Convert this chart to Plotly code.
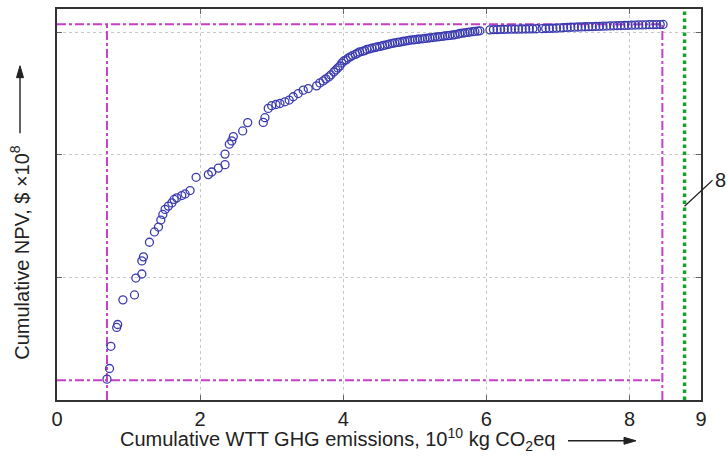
import plotly.graph_objects as go

# Cumulative WTT GHG emissions (10^10 kg CO2eq) and cumulative NPV ($ x10^8)
emissions = [
    0.698, 0.734, 0.753, 0.834, 0.848, 0.921, 1.083, 1.102, 1.186, 1.186,
    1.208, 1.292, 1.362, 1.418, 1.451, 1.479, 1.511, 1.557, 1.605, 1.637,
    1.674, 1.744, 1.790, 1.860, 1.944, 2.115, 2.163, 2.255, 2.348, 2.348,
    2.408, 2.442, 2.464, 2.595, 2.665, 2.883, 2.906, 2.952, 3.000, 3.060,
    3.116, 3.185, 3.245, 3.301, 3.371, 3.441, 3.511, 3.628, 3.674, 3.720,
    3.757, 3.799, 3.827, 3.869, 3.897, 3.925, 3.953, 3.981, 4.009,
    4.04, 4.07, 4.10, 4.13, 4.17, 4.20, 4.23, 4.27, 4.30, 4.33,
    4.37, 4.40, 4.44, 4.47, 4.51, 4.55, 4.58, 4.62, 4.65, 4.69,
    4.72, 4.76, 4.79, 4.83, 4.86, 4.90, 4.93, 4.97, 5.00, 5.04,
    5.07, 5.11, 5.14, 5.18, 5.21, 5.25, 5.28, 5.32, 5.35, 5.39,
    5.42, 5.46, 5.49, 5.53, 5.56, 5.60, 5.63, 5.67, 5.70, 5.74,
    5.77, 5.81, 5.84, 5.88, 5.91,
    6.05, 6.10, 6.15, 6.20, 6.25, 6.30, 6.35, 6.40, 6.45, 6.50,
    6.55, 6.60, 6.65, 6.70, 6.78, 6.83, 6.88, 6.93, 6.98, 7.03,
    7.08, 7.13, 7.18, 7.23, 7.28, 7.33, 7.38, 7.43, 7.48, 7.53,
    7.58, 7.63, 7.68, 7.73, 7.78, 7.83, 7.88, 7.93, 7.98, 8.03,
    8.08, 8.13, 8.18, 8.23, 8.28, 8.33, 8.38, 8.43, 8.47,
]
npv = [
    0.170, 0.257, 0.438, 0.592, 0.616, 0.817, 0.857, 0.995, 1.028, 1.135,
    1.168, 1.287, 1.371, 1.411, 1.468, 1.514, 1.555, 1.582, 1.608, 1.636,
    1.649, 1.668, 1.681, 1.709, 1.817, 1.839, 1.860, 1.892, 1.920, 2.006,
    2.087, 2.114, 2.149, 2.195, 2.263, 2.265, 2.303, 2.379, 2.401, 2.411,
    2.419, 2.433, 2.447, 2.474, 2.500, 2.528, 2.541, 2.563, 2.587, 2.603,
    2.620, 2.636, 2.652, 2.676, 2.693, 2.709, 2.725, 2.749, 2.766,
    2.775, 2.790, 2.800, 2.810, 2.820, 2.830, 2.840, 2.845, 2.850, 2.860,
    2.865, 2.870, 2.875, 2.880, 2.885, 2.890, 2.895, 2.900, 2.905, 2.910,
    2.913, 2.917, 2.920, 2.925, 2.928, 2.932, 2.936, 2.938, 2.940, 2.943,
    2.945, 2.947, 2.950, 2.952, 2.955, 2.957, 2.960, 2.962, 2.965, 2.967,
    2.970, 2.972, 2.975, 2.978, 2.980, 2.985, 2.990, 2.993, 2.996, 2.999,
    3.002, 3.005, 3.007, 3.010, 3.012,
    3.020, 3.022, 3.022, 3.024, 3.024, 3.025, 3.025, 3.026, 3.026, 3.027,
    3.027, 3.028, 3.028, 3.029, 3.030, 3.031, 3.032, 3.033, 3.034, 3.036,
    3.038, 3.040, 3.041, 3.042, 3.043, 3.044, 3.045, 3.046, 3.047, 3.048,
    3.049, 3.050, 3.051, 3.052, 3.053, 3.054, 3.055, 3.056, 3.057, 3.058,
    3.059, 3.060, 3.060, 3.061, 3.062, 3.062, 3.063, 3.063, 3.064,
]

# reference lines
min_emission = 0.698
max_emission = 8.46
limit_emission = 8.77
min_npv = 0.162
max_npv = 3.065

x_ticks = [0, 2, 4, 6, 8, 9]
x_ticklabels = ["0", "2", "4", "6", "8", "9"]
y_ticks = [0, 1, 2, 3]

PINK = "#c63fc6"
GREEN = "#17a02c"
MARK = "#3b3bb0"
FONT = "Liberation Sans, Arial, sans-serif"

W, H = 728, 460
ML, MR, MT, MB = 57, 27, 7, 60
PW, PH = W - ML - MR, H - MT - MB


def px(x):
    return (x - ML) / PW


def py(y):
    return (H - MB - y) / PH


fig = go.Figure()

# dash-dot bounding lines
fig.add_trace(go.Scatter(x=[0, max_emission], y=[max_npv, max_npv], mode="lines",
                         line=dict(color=PINK, width=2, dash="dashdot"), hoverinfo="skip"))
fig.add_trace(go.Scatter(x=[0, max_emission], y=[min_npv, min_npv], mode="lines",
                         line=dict(color=PINK, width=2, dash="dashdot"), hoverinfo="skip"))
fig.add_trace(go.Scatter(x=[min_emission, min_emission], y=[0, max_npv], mode="lines",
                         line=dict(color=PINK, width=2, dash="dashdot"), hoverinfo="skip"))
fig.add_trace(go.Scatter(x=[max_emission, max_emission], y=[0, max_npv], mode="lines",
                         line=dict(color=PINK, width=2, dash="dashdot"), hoverinfo="skip"))
fig.add_trace(go.Scatter(x=[limit_emission, limit_emission], y=[0, 3.19], mode="lines",
                         line=dict(color=GREEN, width=3.5, dash="dot"), hoverinfo="skip"))

fig.add_trace(go.Scatter(x=emissions, y=npv, mode="markers",
                         marker=dict(symbol="circle-open", size=8, color=MARK,
                                     line=dict(width=1.3, color=MARK))))

fig.update_layout(
    width=W, height=H,
    margin=dict(l=ML, r=MR, t=MT, b=MB),
    paper_bgcolor="white", plot_bgcolor="white",
    showlegend=False,
    font=dict(family=FONT, size=20, color="#222"),
)
fig.update_xaxes(range=[0, 9], tickvals=x_ticks, ticktext=x_ticklabels,
                 showgrid=True, gridcolor="#c8c8c8", griddash="dot", gridwidth=1,
                 showline=True, linecolor="#333", linewidth=2, mirror="ticks",
                 ticks="inside", ticklen=5, tickcolor="#666",
                 tickfont=dict(size=20), zeroline=False)
fig.update_yaxes(range=[0, 3.19], tickvals=y_ticks, showticklabels=False,
                 showgrid=True, gridcolor="#c8c8c8", griddash="dot", gridwidth=1,
                 showline=True, linecolor="#333", linewidth=2, mirror="ticks",
                 ticks="inside", ticklen=5, tickcolor="#666", zeroline=False)

# axis titles
fig.add_annotation(text="Cumulative WTT GHG emissions, 10<sup>10</sup> kg CO<sub>2</sub>eq",
                   xref="paper", yref="paper", x=px(337), y=py(440),
                   showarrow=False, font=dict(size=20), xanchor="center", yanchor="middle")
fig.add_annotation(text="Cumulative NPV, $ ×10<sup>8</sup>",
                   xref="paper", yref="paper", x=px(20), y=py(252),
                   textangle=-90, showarrow=False, font=dict(size=20),
                   xanchor="center", yanchor="middle")

# title arrows as shapes
fig.add_shape(type="line", xref="paper", yref="paper",
              x0=px(568), y0=py(441), x1=px(628), y1=py(441),
              line=dict(color="#222", width=1.4))
fig.add_shape(type="path", xref="paper", yref="paper",
              path=f"M {px(636)} {py(441)} L {px(624)} {py(437.5)} L {px(624)} {py(444.5)} Z",
              fillcolor="#222", line=dict(color="#222", width=1))
fig.add_shape(type="line", xref="paper", yref="paper",
              x0=px(20), y0=py(132), x1=px(20), y1=py(72),
              line=dict(color="#222", width=1.4))
fig.add_shape(type="path", xref="paper", yref="paper",
              path=f"M {px(20)} {py(64)} L {px(16.5)} {py(76)} L {px(23.5)} {py(76)} Z",
              fillcolor="#222", line=dict(color="#222", width=1))

# side label
fig.add_annotation(text="8", x=limit_emission, y=1.581, xref="x", yref="y",
                   ax=28, ay=-26, showarrow=True, arrowhead=0, arrowwidth=1.2,
                   arrowcolor="#222", font=dict(size=20), xanchor="left", yanchor="middle")

fig.write_html("out.html", config={"displayModeBar": False},
               post_script="document.body.style.margin='0';document.body.style.overflow='hidden';")
